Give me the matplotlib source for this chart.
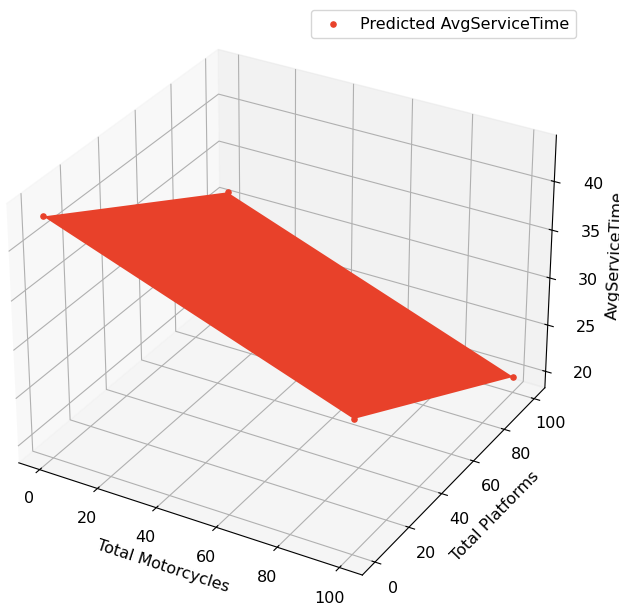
import numpy as np
import matplotlib
matplotlib.use("Agg")
import matplotlib.pyplot as plt

plt.rcParams["font.size"] = 11.5

# corner points of the predicted plane (motorcycles, platforms, avg service time)
motorcycles = np.array([0, 100, 0, 100])
platforms = np.array([0, 0, 100, 100])
avg_service = np.array([43.0, 32.0, 31.1, 19.9])

color = "#e8412a"

fig = plt.figure(figsize=(6.19, 6.12), dpi=100)
ax = fig.add_subplot(projection="3d")
ax.set_position([-0.0442, -0.012, 0.988, 1.018])

X = motorcycles.reshape(2, 2)
Y = platforms.reshape(2, 2)
Z = avg_service.reshape(2, 2)
ax.plot_surface(X, Y, Z, color=color, shade=False, linewidth=0, antialiased=True)
ax.scatter(motorcycles, platforms, avg_service, color=color, s=14, depthshade=False,
           label="Predicted AvgServiceTime")

ax.set_xlabel("Total Motorcycles")
ax.set_ylabel("Total Platforms")
ax.set_zlabel("AvgServiceTime", labelpad=8)
ax.tick_params(axis="z", pad=9)
fig.legend(loc="upper right", bbox_to_anchor=(0.9433, 0.9965), handletextpad=0.7)

fig.savefig("out.png", dpi=100)
